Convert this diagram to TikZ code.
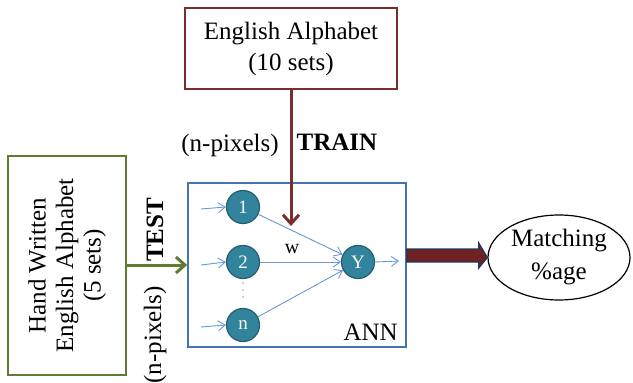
\documentclass[tikz,border=0pt]{standalone}
\usepackage{fontspec}
\setmainfont{Liberation Serif}
\usetikzlibrary{arrows.meta,shapes.geometric,calc}
\definecolor{trainred}{RGB}{122,46,44}
\definecolor{testgreen}{RGB}{96,124,46}
\definecolor{annblue}{RGB}{70,115,178}
\definecolor{neurfill}{RGB}{49,132,155}
\definecolor{neurline}{RGB}{36,94,114}
\definecolor{thinblue}{RGB}{105,152,212}
\definecolor{fatfill}{RGB}{112,34,34}
\definecolor{fatline}{RGB}{31,56,100}
\tikzset{
  txt/.style={font=\fontsize{25}{31}\selectfont, align=center, inner sep=0pt},
  neuron/.style={circle, draw=neurline, line width=1.2pt, fill=neurfill, minimum size=33pt, inner sep=0pt, text=white, font=\fontsize{19}{20}\selectfont},
  thin/.style={draw=thinblue, line width=0.9pt, -{Straight Barb[length=7pt,width=10pt]}},
}
\begin{document}
\begin{tikzpicture}[x=1pt,y=-1pt]
\useasboundingbox (0,0) rectangle (633,383);
% boxes
\node[draw=trainred, line width=1.6pt, minimum width=212pt, minimum height=81pt, txt] (top) at (291,48.5) {English Alphabet\\(10 sets)};
\node[draw=testgreen, line width=1.6pt, minimum width=118pt, minimum height=219pt] (left) at (67,265.5) {};
\node[txt, rotate=90, font=\fontsize{25}{27.5}\selectfont] (lefttxt) at (left.center) {Hand Written\\English Alphabet\\(5 sets)};
\node[draw=annblue, line width=1.6pt, minimum width=218pt, minimum height=164pt] (ann) at (297,265) {};
\node[txt, anchor=south east] (annlbl) at (398,341) {ANN};
% neurons
\node[neuron] (n1) at (243,207) {1};
\node[neuron] (n2) at (243,262) {2};
\node[neuron] (nn) at (243,325) {n};
\node[neuron] (ny) at (358,262) {Y};
\foreach \yy in {283,290,297} \fill[gray!70] (243,\yy) circle (0.9pt);
% ellipse
\node[ellipse, draw=black, line width=1.2pt, minimum width=142pt, minimum height=85pt, txt, font=\fontsize{25}{33}\selectfont] (match) at (559,257.5) {Matching\\\%age};
% labels
\node[txt] (npx1) at (230,145) {(n-pixels)};
\node[txt, font=\bfseries\fontsize{25}{31}\selectfont] (train) at (337,142) {TRAIN};
\node[txt, rotate=90, font=\bfseries\fontsize{25}{31}\selectfont] (test) at (155,230) {TEST};
\node[txt, rotate=90] (npx2) at (155,335) {(n-pixels)};
\node[txt, font=\fontsize{20}{20}\selectfont] (wlbl) at (292,249) {w};
% connectors
\coordinate (trainend) at (291,226);
\draw[trainred, line width=3pt, -{Straight Barb[length=9pt,width=16pt]}] (top.south -| trainend) -- (trainend);
\draw[testgreen, line width=3pt, -{Straight Barb[length=9pt,width=16pt]}] (left.east |- ann.west) -- (ann.west);
\coordinate (i1) at (201,209);
\coordinate (i2) at (201,265);
\coordinate (in) at (201,327);
\draw[thin] (i1) -- (n1.west);
\draw[thin] (i2) -- (n2.west);
\draw[thin] (in) -- (nn.west);
\draw[thin] (n1) -- (ny);
\draw[thin] (n2) -- (ny);
\draw[thin] (nn) -- (ny);
\coordinate (yout) at (399,261);
\draw[thin] (ny.east) -- (yout);
% fat arrow
\draw[fatline, fill=fatfill, line width=1.2pt, line join=miter]
  ($(ann.east)+(0,-16)$) -- ($(ann.east)+(72,-16)$) -- ($(ann.east)+(72,-22)$)
  -- (match.west) -- ($(ann.east)+(72,3)$) -- ($(ann.east)+(72,-3)$) -- ($(ann.east)+(0,-3)$) -- cycle;
\end{tikzpicture}
\end{document}
